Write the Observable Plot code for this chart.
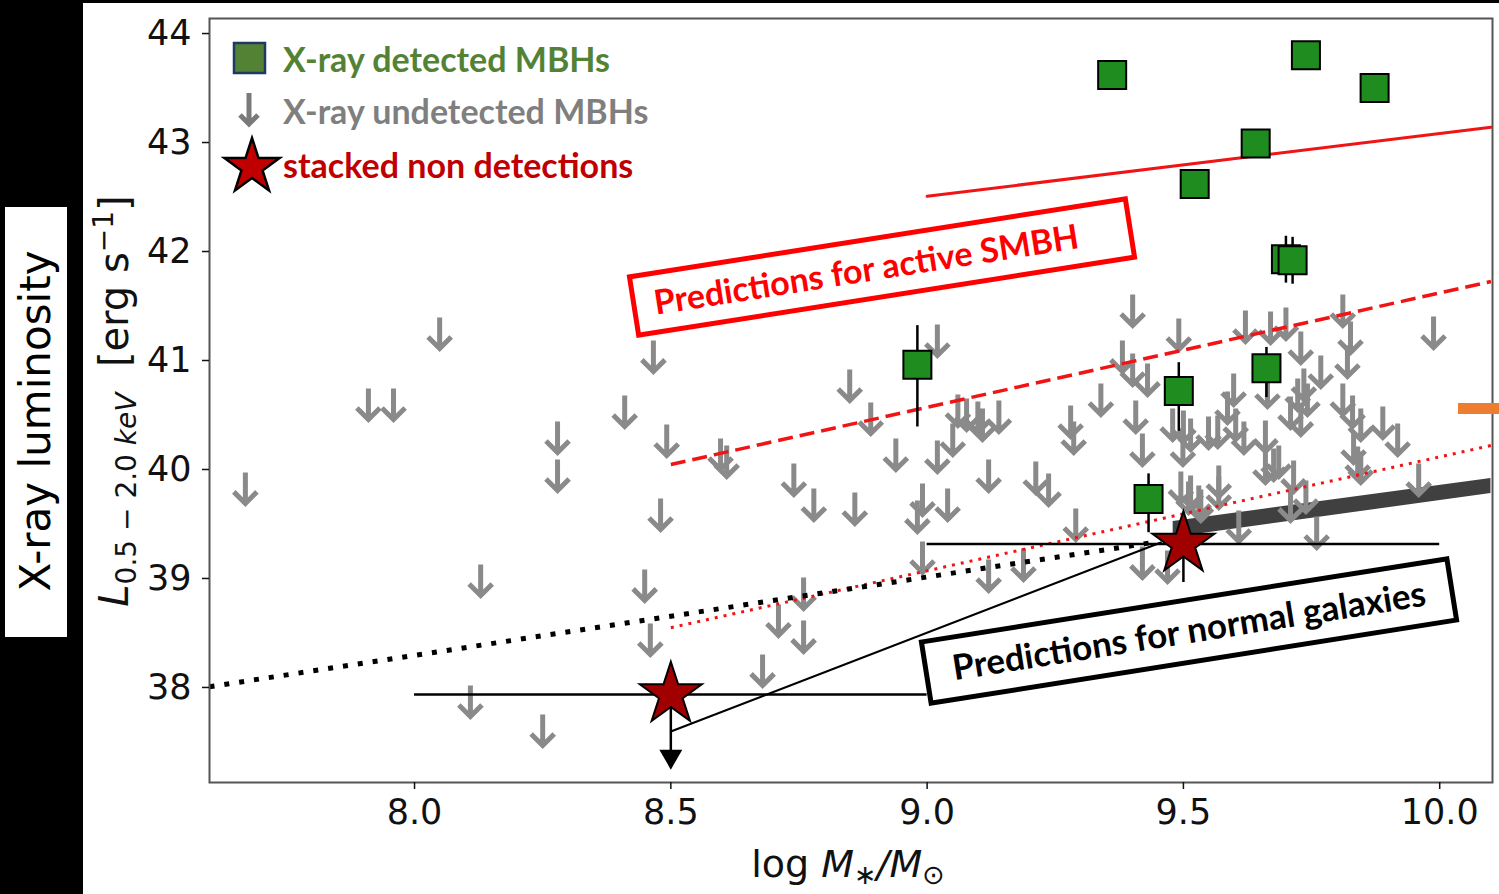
<!DOCTYPE html>
<html>
<head>
<meta charset="utf-8">
<script src="https://cdn.jsdelivr.net/npm/d3@7"></script>
<script src="https://cdn.jsdelivr.net/npm/@observablehq/plot@0.6"></script>
<style>
  html, body { margin: 0; padding: 0; background: #fff; }
  #wrap { position: relative; width: 1499px; height: 894px; overflow: hidden; background: #fff; }
  #chart { position: absolute; left: 0; top: 0; }
  #over { position: absolute; left: 0; top: 0; pointer-events: none; }
</style>
</head>
<body>
<div id="wrap">
  <div id="chart"></div>
  <svg id="over" width="1499" height="894"></svg>
</div>
<script>
// ---------------- data ----------------
const xTicks = [8.0, 8.5, 9.0, 9.5, 10.0];
const yTicks = [38, 39, 40, 41, 42, 43, 44];

// X-ray undetected MBHs (upper limits, arrow centres)
const undetX = [7.670, 8.049, 7.910, 7.959, 8.129, 8.109, 8.250, 8.466, 8.410, 8.279, 8.279, 8.492, 8.597, 8.609, 8.480, 8.449, 8.460, 8.849, 8.890, 8.740, 8.779, 8.859, 8.710, 8.759, 8.759, 8.679, 9.988, 9.020, 8.939, 9.020, 9.060, 9.077, 9.099, 9.108, 9.140, 9.050, 8.991, 8.981, 9.040, 9.120, 9.212, 9.237, 9.280, 9.286, 9.290, 8.991, 9.120, 9.188, 9.339, 9.401, 9.381, 9.401, 9.430, 9.407, 9.420, 9.491, 9.479, 9.500, 9.514, 9.499, 9.495, 9.514, 9.530, 9.549, 9.567, 9.569, 9.586, 9.598, 9.602, 9.618, 9.621, 9.670, 9.700, 9.660, 9.676, 9.420, 9.469, 9.608, 9.811, 9.826, 9.820, 9.729, 9.768, 9.723, 9.735, 9.742, 9.709, 9.729, 9.686, 9.660, 9.811, 9.830, 9.846, 9.889, 9.918, 9.832, 9.840, 9.846, 9.715, 9.739, 9.709, 9.760, 9.959, 9.510, 9.534, 9.569, 9.664];
const undetY = [39.817, 41.239, 40.587, 40.587, 38.972, 37.862, 37.596, 41.028, 40.523, 40.284, 39.936, 40.257, 40.128, 40.064, 39.578, 38.927, 38.431, 40.761, 40.459, 39.899, 39.670, 39.633, 38.606, 38.459, 38.853, 38.147, 41.248, 41.174, 40.128, 40.110, 40.532, 40.495, 40.468, 40.404, 40.477, 40.266, 39.716, 39.560, 39.670, 39.936, 39.917, 39.807, 40.431, 40.284, 39.486, 39.183, 39.018, 39.119, 40.633, 41.450, 41.028, 40.908, 40.817, 40.477, 40.174, 41.229, 40.404, 40.385, 40.312, 40.174, 39.826, 39.789, 39.697, 40.330, 40.339, 39.881, 40.560, 40.725, 40.404, 40.284, 41.303, 41.294, 41.330, 40.294, 40.037, 39.138, 39.101, 39.468, 41.450, 41.202, 40.982, 41.110, 40.890, 40.679, 40.771, 40.633, 40.514, 40.450, 40.064, 40.009, 40.633, 40.523, 40.404, 40.422, 40.266, 40.193, 40.055, 40.009, 39.927, 39.743, 39.661, 39.413, 39.899, 39.734, 39.661, 39.780, 40.706];

// X-ray detected MBHs
const detX  = [9.361, 9.739, 9.873, 9.641, 9.522, 9.700, 9.713, 8.981, 9.491, 9.662, 9.432];
const detY  = [43.62, 43.80, 43.50, 42.99, 42.62, 41.93, 41.92, 40.96, 40.72, 40.93, 39.73];
const detLo = [43.62, 43.80, 43.50, 42.99, 42.62, 41.71, 41.70, 40.39, 40.35, 40.66, 39.42];
const detHi = [43.62, 43.80, 43.50, 42.99, 42.62, 42.14, 42.13, 41.32, 40.98, 41.12, 39.96];

// stacked non detections
const stackX   = [8.5, 9.5];
const stackY   = [37.936, 39.317];
const stackXLo = [8.0, 9.0];
const stackXHi = [9.0, 10.0];
const stackYLo = [37.42, 38.963];
const stackYHi = [37.936, 39.6];
const limitX = [8.5];
const limitY = [37.367];

// prediction lines
const activeSolidX = [9.0, 10.1],  activeSolidY = [42.507, 43.140];
const activeDashX  = [8.5, 10.1],  activeDashY  = [40.046, 41.725];
const activeDotX   = [8.5, 10.1],  activeDotY   = [38.548, 40.220];
const normalDotX   = [7.6, 9.44],  normalDotY   = [38.007, 39.330];
const connectX     = [8.5, 9.456], connectY     = [37.596, 39.330];
const bandX  = [9.48, 10.1];
const bandLo = [39.376, 39.780];
const bandHi = [39.523, 39.917];

// ---------------- build tables ----------------
const undet = undetX.map((x, i) => ({x, y: undetY[i]}));
const det = detX.map((x, i) => ({x, y: detY[i], lo: detLo[i], hi: detHi[i]}));
const stack = stackX.map((x, i) => ({x, y: stackY[i], xlo: stackXLo[i], xhi: stackXHi[i], ylo: stackYLo[i], yhi: stackYHi[i]}));
const limits = limitX.map((x, i) => ({x, y: limitY[i]}));
const pts = (xs, ys) => xs.map((x, i) => ({x, y: ys[i]}));
const band = bandX.map((x, i) => ({x, lo: bandLo[i], hi: bandHi[i]}));

// custom symbols
const downArrow = {
  draw(ctx, size) {
    const r = Math.sqrt(size / Math.PI);
    const w = r * 0.68;
    ctx.moveTo(0, -r);
    ctx.lineTo(0, r - 3);
    ctx.moveTo(-w, r - 3 - w);
    ctx.lineTo(0, r - 3);
    ctx.lineTo(w, r - 3 - w);
  }
};
const downTri = {
  draw(ctx, size) {
    const r = Math.sqrt(size / Math.PI);
    ctx.moveTo(-1.35 * r, -0.8 * r);
    ctx.lineTo(1.35 * r, -0.8 * r);
    ctx.lineTo(0, 1.55 * r);
    ctx.closePath();
  }
};

const chart = Plot.plot({
  width: 1499,
  height: 894,
  marginLeft: 209,
  marginRight: 7,
  marginTop: 18,
  marginBottom: 112,
  x: {domain: [7.6, 10.103]},
  y: {domain: [37.128, 44.138]},
  style: {fontFamily: "DejaVu Sans", background: "white", color: "#111"},
  marks: [
    Plot.areaY(band, {x: "x", y1: "lo", y2: "hi", fill: "#404040"}),
    Plot.dot(undet, {x: "x", y: "y", symbol: downArrow, r: 17, stroke: "#8a8a8a", strokeWidth: 5, fill: "none"}),
    Plot.line(pts(activeSolidX, activeSolidY), {x: "x", y: "y", stroke: "#f01414", strokeWidth: 3}),
    Plot.line(pts(activeDashX, activeDashY), {x: "x", y: "y", stroke: "#f01414", strokeWidth: 3.5, strokeDasharray: "15,7", strokeLinecap: "butt"}),
    Plot.line(pts(activeDotX, activeDotY), {x: "x", y: "y", stroke: "#f01414", strokeWidth: 3, strokeDasharray: "3,6", strokeLinecap: "butt"}),
    Plot.line(pts(normalDotX, normalDotY), {x: "x", y: "y", stroke: "black", strokeWidth: 5, strokeDasharray: "5,10", strokeLinecap: "butt"}),
    Plot.line(pts(connectX, connectY), {x: "x", y: "y", stroke: "black", strokeWidth: 2}),
    Plot.ruleX(det, {x: "x", y1: "lo", y2: "hi", stroke: "black", strokeWidth: 2.5}),
    Plot.dot(det, {x: "x", y: "y", symbol: "square", r: 15.8, fill: "#1f8c1f", stroke: "black", strokeWidth: 2}),
    Plot.ruleY(stack, {y: "y", x1: "xlo", x2: "xhi", stroke: "black", strokeWidth: 2.5}),
    Plot.ruleX(stack, {x: "x", y1: "ylo", y2: "yhi", stroke: "black", strokeWidth: 2.5}),
    Plot.dot(limits, {x: "x", y: "y", symbol: downTri, r: 8.5, fill: "black", stroke: "none"}),
    Plot.dot(stack, {x: "x", y: "y", symbol: "star", r: 19.5, fill: "#a00000", stroke: "black", strokeWidth: 2}),
    Plot.frame({stroke: "#555", strokeWidth: 2}),
    Plot.axisX({ticks: xTicks, tickFormat: d => d.toFixed(1), fontSize: 35, tickSize: 7, tickPadding: 10, label: null, strokeWidth: 1.5}),
    Plot.axisY({ticks: yTicks, tickFormat: d => d.toFixed(0), fontSize: 35, tickSize: 7, tickPadding: 11, label: null, strokeWidth: 1.5})
  ]
});
document.getElementById("chart").appendChild(chart);

// ---------------- overlay annotations ----------------
const over = d3.select("#over");

// axis labels
const yl = over.append("text")
  .attr("transform", "translate(128,401) rotate(-90)")
  .attr("text-anchor", "middle")
  .attr("font-family", "DejaVu Sans")
  .attr("font-size", 40)
  .attr("fill", "#111");
yl.append("tspan").attr("font-style", "italic").text("L");
yl.append("tspan").attr("font-size", 28).attr("dy", 8).text("0.5\u00a0\u2212\u00a02.0\u00a0");
yl.append("tspan").attr("font-size", 28).attr("font-style", "italic").text("keV");
yl.append("tspan").attr("dy", -8).text("\u00a0\u00a0[erg\u00a0s");
yl.append("tspan").attr("font-size", 28).attr("dy", -15).text("\u22121");
yl.append("tspan").attr("dy", 15).text("]");

const xl = over.append("text")
  .attr("x", 848).attr("y", 877)
  .attr("text-anchor", "middle")
  .attr("font-family", "DejaVu Sans")
  .attr("font-size", 38)
  .attr("fill", "#111");
xl.append("tspan").text("log\u00a0");
xl.append("tspan").attr("font-style", "italic").text("M");
xl.append("tspan").attr("font-size", 27).attr("dy", 7).text("\u2217");
xl.append("tspan").attr("dy", -7).attr("font-style", "italic").text("/M");
xl.append("tspan").attr("font-size", 27).attr("dy", 7).text("\u2299");

// legend
function starPath(cx, cy, R) {
  const r = R * 0.382;
  const p = [];
  for (let k = 0; k < 10; k++) {
    const a = -Math.PI / 2 + k * Math.PI / 5;
    const rr = k % 2 ? r : R;
    p.push([cx + rr * Math.cos(a), cy + rr * Math.sin(a)]);
  }
  return "M" + p.map(q => q.join(",")).join("L") + "Z";
}
const leg = over.append("g").attr("font-family", "Lato").attr("font-weight", "bold").attr("font-size", 34);
leg.append("rect").attr("x", 234).attr("y", 43).attr("width", 31).attr("height", 30)
  .attr("fill", "#548235").attr("stroke", "#203864").attr("stroke-width", 2.5);
leg.append("text").attr("x", 283).attr("y", 72).attr("fill", "#548235").text("X-ray detected MBHs");
leg.append("path").attr("d", "M249,93L249,124M240,115L249,124L258,115")
  .attr("fill", "none").attr("stroke", "#7a7a7a").attr("stroke-width", 5);
leg.append("text").attr("x", 283).attr("y", 124).attr("fill", "#7f7f7f").text("X-ray undetected MBHs");
leg.append("path").attr("d", starPath(252, 167, 29))
  .attr("fill", "#c00000").attr("stroke", "black").attr("stroke-width", 2.5);
leg.append("text").attr("x", 283).attr("y", 178).attr("fill", "#c00000").text("stacked non detections");

// callout boxes
const red = over.append("g").attr("transform", "translate(882,267) rotate(-8.96)");
red.append("rect").attr("x", -251).attr("y", -29.5).attr("width", 502).attr("height", 59)
  .attr("fill", "white").attr("stroke", "#ff0000").attr("stroke-width", 5);
red.append("text").attr("x", -16).attr("y", 12).attr("text-anchor", "middle")
  .attr("font-family", "Lato").attr("font-weight", "bold").attr("font-size", 34)
  .attr("fill", "#ff0000").text("Predictions for active SMBH");

const blk = over.append("g").attr("transform", "translate(1189,631) rotate(-9)");
blk.append("rect").attr("x", -266).attr("y", -31).attr("width", 532).attr("height", 62)
  .attr("fill", "white").attr("stroke", "black").attr("stroke-width", 5);
blk.append("text").attr("x", 0).attr("y", 12).attr("text-anchor", "middle")
  .attr("font-family", "Lato").attr("font-weight", "bold").attr("font-size", 35)
  .attr("fill", "black").text("Predictions for normal galaxies");

// orange tick at right edge
over.append("rect").attr("x", 1458).attr("y", 403).attr("width", 41).attr("height", 11).attr("fill", "#ed7d31");

// left black band and top strip
over.append("rect").attr("x", 0).attr("y", 0).attr("width", 83).attr("height", 894).attr("fill", "black");
over.append("rect").attr("x", 0).attr("y", 0).attr("width", 1499).attr("height", 3).attr("fill", "black");
over.append("rect").attr("x", 5).attr("y", 207).attr("width", 62).attr("height", 430).attr("fill", "white");
over.append("text")
  .attr("transform", "translate(50,421) rotate(-90)")
  .attr("text-anchor", "middle")
  .attr("font-family", "DejaVu Sans")
  .attr("font-size", 42)
  .attr("fill", "black")
  .text("X-ray luminosity");
</script>
</body>
</html>
